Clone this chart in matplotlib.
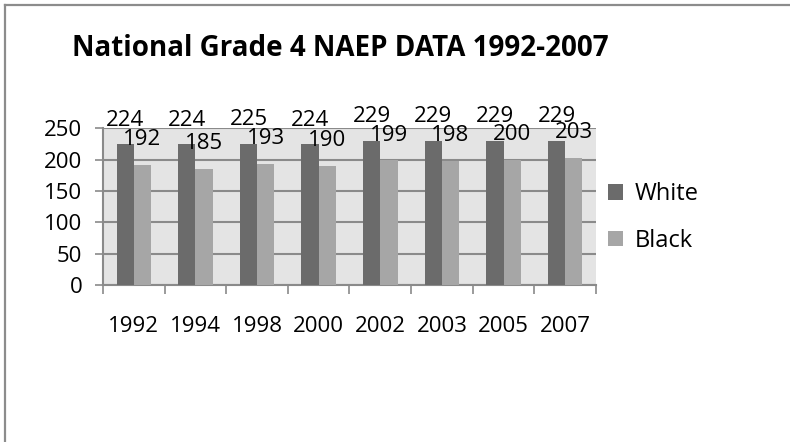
import matplotlib.pyplot as plt
from matplotlib.lines import Line2D
import numpy as np

# Data
years = ["1992", "1994", "1998", "2000", "2002", "2003", "2005", "2007"]
white = [224, 224, 225, 224, 229, 229, 229, 229]
black = [192, 185, 193, 190, 199, 198, 200, 203]

plt.rcParams["font.family"] = ["Open Sans", "DejaVu Sans"]

GRID = "#8a8a8a"
W, H = 790, 442

fig = plt.figure(figsize=(7.9, 4.42), dpi=100)
# outer chart border: only the top and left edges fall inside the picture
fig.add_artist(Line2D([4.5 / W, 4.5 / W], [0, 1 - 5 / H], color="#8c8c8c", linewidth=1.6))
fig.add_artist(Line2D([4.5 / W, 1], [1 - 5 / H, 1 - 5 / H], color="#8c8c8c", linewidth=1.6))

ax = fig.add_axes([0.1304, 0.355, 0.624, 0.355])
ax.set_facecolor("#e4e4e4")

x = np.arange(len(years))
w = 0.28
ax.bar(x - w / 2, white, width=w, color="#6b6b6b", label="White", zorder=3)
ax.bar(x + w / 2, black, width=w, color="#a6a6a6", label="Black", zorder=3)

for xi, v in zip(x, white):
    ax.annotate(str(v), (xi - w / 2, v), xytext=(0, 10), textcoords="offset points",
                ha="center", va="bottom", fontsize=16, zorder=4)
for xi, v in zip(x, black):
    ax.annotate(str(v), (xi + w / 2, v), xytext=(0, 10.5), textcoords="offset points",
                ha="center", va="bottom", fontsize=16, zorder=4)

ax.set_xlim(-0.5, len(years) - 0.5)
ax.set_ylim(0, 250)
ax.set_yticks(range(0, 251, 50))
ax.yaxis.grid(True, color=GRID, linewidth=1.5, zorder=1)
ax.set_axisbelow(True)

# category ticks at boundaries, labels at centres
ax.set_xticks(np.arange(-0.5, len(years)))
ax.set_xticklabels([])
ax.set_xticks(x, minor=True)
ax.set_xticklabels(years, minor=True, fontsize=16)
ax.tick_params(axis="x", which="major", length=6.5, color=GRID, width=1.2)
ax.tick_params(axis="x", which="minor", length=0, pad=22)
ax.tick_params(axis="y", length=6, color=GRID, width=1.2, labelsize=16, pad=9)

for side in ["top", "right"]:
    ax.spines[side].set_visible(False)
for side in ["left", "bottom"]:
    ax.spines[side].set_color(GRID)
    ax.spines[side].set_linewidth(1.5)

fig.text(72 / W, 1 - 48 / H, "National Grade 4 NAEP DATA 1992-2007", fontsize=20,
         fontweight="bold", ha="left", va="center")

ax.legend(loc="center left", bbox_to_anchor=(0.986, 0.43), frameon=False, fontsize=17,
          handlelength=0.65, handleheight=0.65, handletextpad=0.5, labelspacing=0.95,
          borderpad=0.3)

fig.savefig("out.png", dpi=100)
